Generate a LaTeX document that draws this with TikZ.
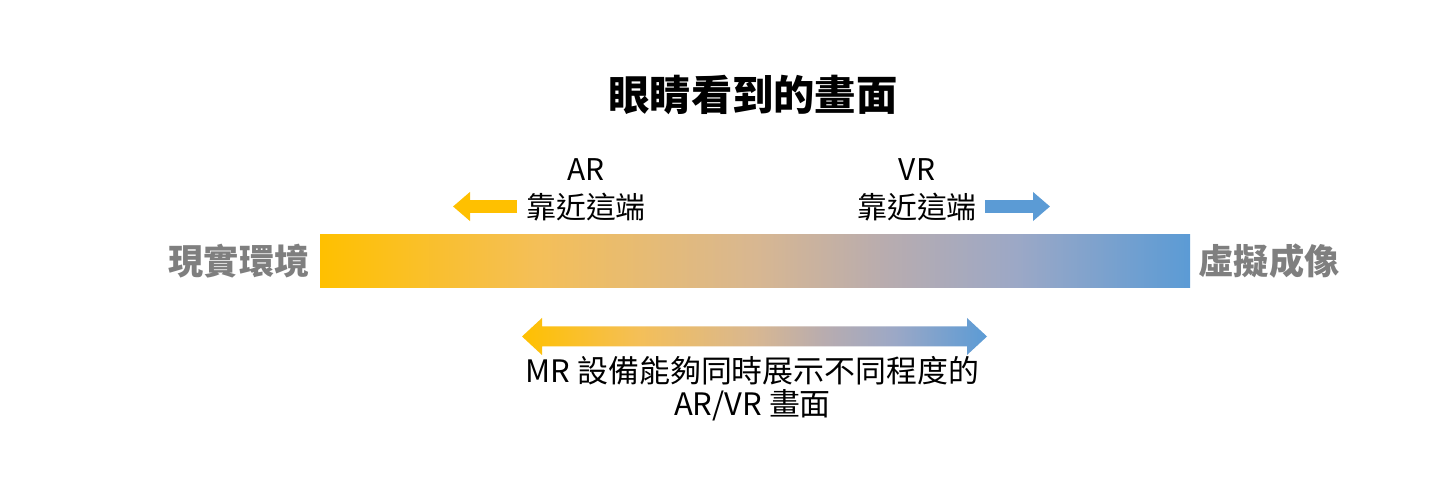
\documentclass[tikz,border=0pt]{standalone}
\usepackage{fontspec}
\setmainfont{Noto Sans CJK TC}
\usetikzlibrary{arrows.meta,positioning}
\definecolor{ARYellow}{RGB}{255,192,0}
\definecolor{VRBlue}{RGB}{91,155,213}
\definecolor{SideGray}{RGB}{127,127,127}
\definecolor{MixA}{RGB}{244,191,88}
\definecolor{MixB}{RGB}{216,183,145}
\definecolor{MixC}{RGB}{184,172,175}
\definecolor{MixD}{RGB}{156,168,198}
\pgfdeclarehorizontalshading{arvr}{100bp}{color(0bp)=(ARYellow); color(25bp)=(ARYellow); color(37.5bp)=(MixA); color(50bp)=(MixB); color(57.5bp)=(MixC); color(65bp)=(MixD); color(75bp)=(VRBlue); color(100bp)=(VRBlue)}
\tikzset{
  titlelabel/.style={font=\fontsize{23.5}{28}\selectfont\bfseries, inner sep=0pt},
  sidelabel/.style={font=\fontsize{20}{24}\selectfont\bfseries, text=SideGray, inner sep=0pt},
  endlabel/.style={font=\fontsize{17}{20}\selectfont, inner sep=0pt},
  endarrow/.style={line width=0.26cm, -{Triangle[length=0.34cm,width=0.56cm]}},
}

\begin{document}
\begin{tikzpicture}
\fill[white] (0,0) rectangle (29.12,9.62);
\useasboundingbox (0,0) rectangle (29.12,9.62);
% title
\node[titlelabel] (title) at (15.06,7.72) {眼睛看到的畫面};
% gradient bar with both ends
\node[shading=arvr, minimum width=17.4cm, minimum height=1.06cm, inner sep=0pt] (bar) at (15.1,4.39) {};
\node[sidelabel, left=0.2cm of bar] (real) {現實環境};
\node[sidelabel, right=0.16cm of bar] (virt) {虛擬成像};
% AR end
\node[endlabel] (arname) at (11.72,6.22) {AR};
\node[endlabel] (arnear) at (11.72,5.48) {靠近這端};
\coordinate (artail) at (10.34,5.49);
\coordinate (artip) at (9.06,5.49);
\draw[endarrow, ARYellow] (artail) -- (artip);
% VR end
\node[endlabel] (vrname) at (18.34,6.22) {VR};
\node[endlabel] (vrnear) at (18.34,5.48) {靠近這端};
\coordinate (vrtail) at (19.7,5.49);
\coordinate (vrtip) at (21.0,5.49);
\draw[endarrow, VRBlue] (vrtail) -- (vrtip);
% MR range
\coordinate (mrL) at (10.44,2.89);
\coordinate (mrR) at (19.74,2.89);
\shade[shading=arvr] (mrL) --++(0.4,0.37) --++(0,-0.17) --++(8.5,0) --++(0,0.17) -- (mrR)
  --++(-0.4,-0.37) --++(0,0.17) --++(-8.5,0) --++(0,-0.17) -- cycle;
\node[endlabel, font=\fontsize{17.6}{18.8}\selectfont, align=center] (mrtext) at (15.05,1.84) {MR 設備能夠同時展示不同程度的\\AR/VR 畫面};
\end{tikzpicture}
\end{document}
